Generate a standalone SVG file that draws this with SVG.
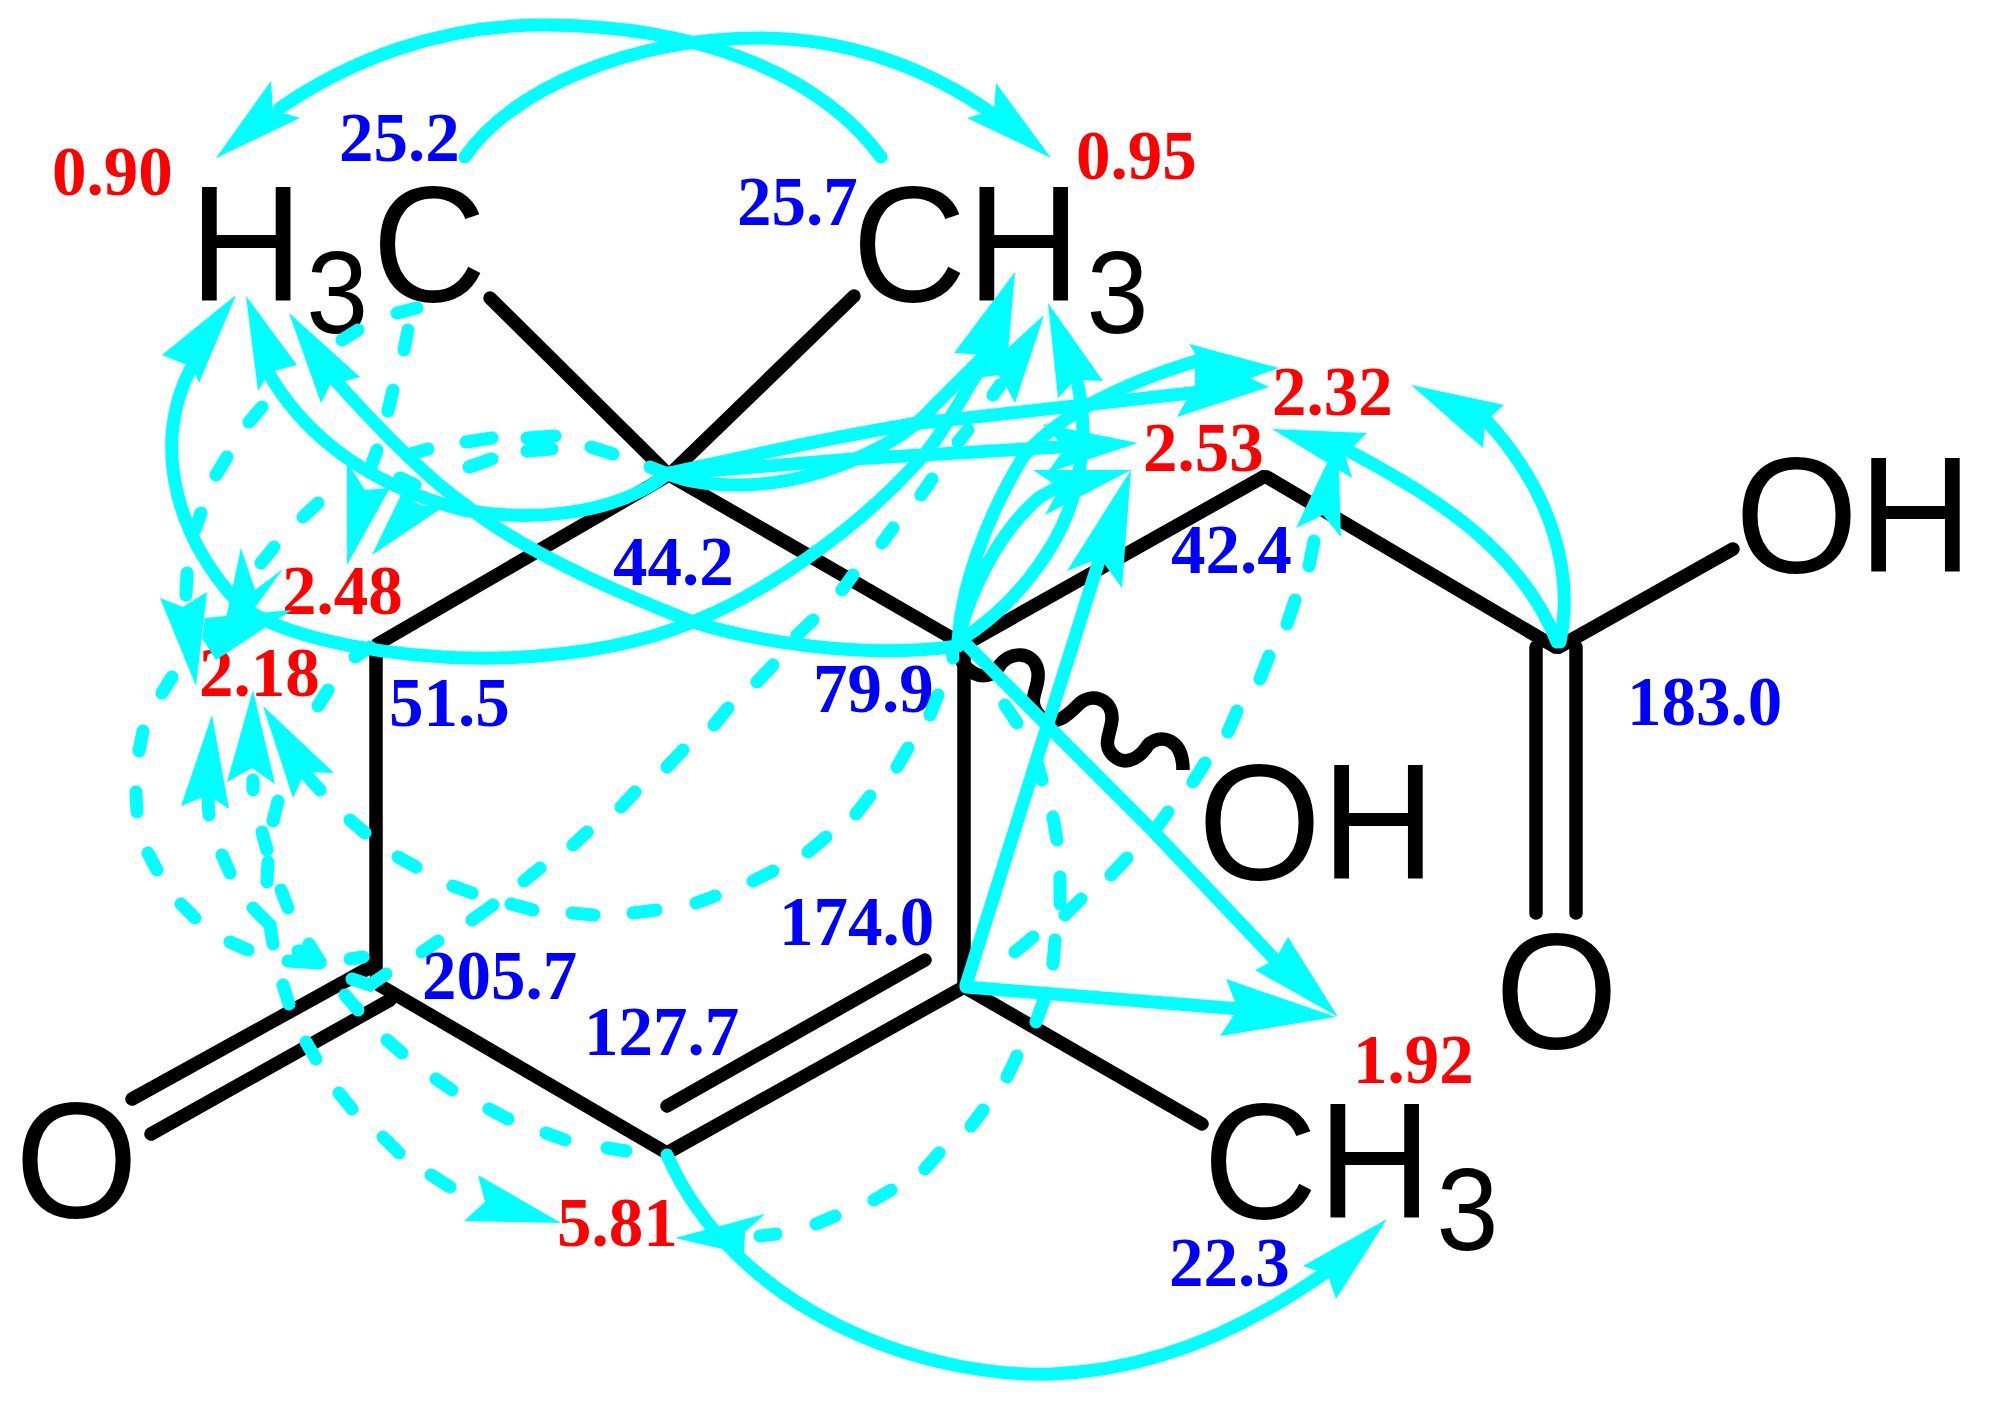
<svg xmlns="http://www.w3.org/2000/svg" width="2002" height="1408" viewBox="0 0 2002 1408">
<style>
.bond{fill:none;stroke:#000;stroke-width:13.5;stroke-linecap:round;stroke-linejoin:bevel}
.atom{font-family:"Liberation Sans",Arial,sans-serif;font-size:165px;fill:#000}
.sub{font-size:116px}
.r,.b{font-family:"Liberation Serif","Times New Roman",serif;font-weight:bold;font-size:69px}
.r{fill:#f00}.b{fill:#00f}
.s{fill:none;stroke:#0ff;stroke-width:13;stroke-linecap:round}
.d{fill:none;stroke:#0ff;stroke-width:13;stroke-linecap:round}
.h{fill:#0ff}
</style>
<rect width="2002" height="1408" fill="#fff"/>
<g id="bonds">
<path class="bond" d="M490 298L669 475L854 296"/>
<path class="bond" d="M669 475L376 645V973"/>
<path class="bond" d="M669 475L964 645V987"/>
<path class="bond" d="M964 645L1265 476L1557 648L1733 549"/>
<path class="bond" d="M1536 647V913M1576 647V913"/>
<path class="bond" d="M132 1099L351 978L374 965M151 1134L390 1000"/>
<path class="bond" d="M379 985L667 1153L964 987L1202 1124"/>
<path class="bond" d="M667 1106L925 960"/>
<path class="bond" d="M958 650C962 672 985 685 998 668C1008 650 1035 650 1038 672C1040 690 1025 700 1040 716C1055 728 1068 715 1078 705C1090 692 1112 698 1112 718C1112 732 1100 745 1115 757C1128 767 1142 755 1148 745C1160 733 1183 738 1183 770" style="stroke-linecap:butt"/>
</g>
<g id="atom-h3c-left"><text class="atom" transform="translate(189 301) scale(.96 1)">H<tspan class="sub" dx="3" dy="32">3</tspan><tspan dx="4" dy="-32">C</tspan></text></g>
<g id="atom-ch3-top"><text class="atom" transform="translate(852 301) scale(.96 1)">CH<tspan class="sub" dx="6" dy="32">3</tspan></text></g>
<g id="atom-oh-acid"><text class="atom" transform="translate(1735 572) scale(.96 1)">OH</text></g>
<g id="atom-oh"><text class="atom" transform="translate(1198 879) scale(.96 1)">OH</text></g>
<g id="atom-o-acid"><text class="atom" transform="translate(1495 1048) scale(.96 1)">O</text></g>
<g id="atom-ch3-bottom"><text class="atom" transform="translate(1203 1218) scale(.96 1)">CH<tspan class="sub" dx="5" dy="32">3</tspan></text></g>
<g id="atom-o-ketone"><text class="atom" transform="translate(15 1217) scale(.96 1)">O</text></g>
<g id="labels-1h">
<text class="r" x="52" y="195">0.90</text>
<text class="r" x="1076" y="179">0.95</text>
<text class="r" x="1272" y="415">2.32</text>
<text class="r" x="1143" y="471">2.53</text>
<text class="r" x="282" y="614">2.48</text>
<text class="r" x="199" y="696">2.18</text>
<text class="r" x="557" y="1246">5.81</text>
<text class="r" x="1353" y="1083">1.92</text>
</g>
<g id="labels-13c">
<text class="b" x="339" y="161">25.2</text>
<text class="b" x="737" y="225">25.7</text>
<text class="b" x="613" y="585">44.2</text>
<text class="b" x="1171" y="573">42.4</text>
<text class="b" x="389" y="726">51.5</text>
<text class="b" x="813" y="712">79.9</text>
<text class="b" x="1627" y="725">183.0</text>
<text class="b" x="779" y="945">174.0</text>
<text class="b" x="422" y="999">205.7</text>
<text class="b" x="584" y="1055">127.7</text>
<text class="b" x="1169" y="1286">22.3</text>
</g>
<g id="connectors">
<path class="s" d="M881 157C820 75 700 25 543 25C440 25 350 60 280 108"/>
<path class="s" d="M465 157C510 90 630 38 760 38C850 38 930 70 990 112"/>
<path class="s" d="M268 372C295 420 350 480 463 510C520 520 610 520 669 473"/>
<path class="s" d="M335 380C380 430 430 480 463 503C520 550 610 590 693 622C750 640 860 660 958 646"/>
<path class="s" d="M190 370C155 440 170 530 240 605C285 640 400 660 498 658C570 656 640 645 697 620C760 595 850 535 913 467C940 440 960 400 985 360"/>
<path class="s" d="M669 474C700 488 760 488 803 477C850 465 905 440 933 407C950 390 965 375 985 355"/>
<path class="s" d="M669 473L753 455Q830 438 912 424L1200 392"/>
<path class="s" d="M669 474L853 459L1060 447"/>
<path class="s" d="M958 645C960 590 985 520 1023 457C1050 425 1100 390 1200 360"/>
<path class="s" d="M958 640C970 590 1000 530 1040 497C1060 485 1075 480 1085 478"/>
<path class="s" d="M960 640C1010 610 1060 550 1075 490C1085 450 1085 420 1078 385"/>
<path class="s" d="M966 985L1108 532"/>
<path class="s" d="M964 642L1154 832L1280 965"/>
<path class="s" d="M966 987L1240 1009"/>
<path class="s" d="M1560 642C1575 570 1550 490 1486 420"/>
<path class="s" d="M1557 642C1520 550 1440 500 1349 451"/>
<path class="s" d="M667 1155C735 1310 920 1378 1052 1374C1165 1370 1262 1320 1340 1262"/>
<path class="d" d="M397 313L417 308M342 340L358 330M408 330L404 350M393 390L388 411M262 407L249 422M227 457L216 475M318 503L303 517M274 547L261 563M201 513L195 530M377 450L370 470M428 449L407 455M466 442L492 438M469 467L492 459M527 438L555 436M527 451L552 449M591 447L613 454M650 467L670 475M400 478L415 485M187 573L186 595M172 677L162 693M370 647L355 657M328 690L318 706M143 731L139 751M136 792L137 812M208 800L209 815M253 780L253 790M302 770L320 790M278 801L273 821M350 820L365 833"/>
<path class="d" d="M262 832L267 850M148 853L157 870M222 855L230 873M268 862L267 882M281 890L288 908M181 904L195 918M253 908L270 925L273 944M230 942L248 950M288 961L320 963M298 951L310 952M309 944L320 962M350 959L363 957M352 979L370 985L386 974M283 985L289 1004M345 995L358 1010M306 1042L316 1059M387 1040L402 1053M436 1079L452 1090M339 1093L352 1109M422 952L438 941M398 857L416 867M453 886L472 893M472 920L493 905"/>
<path class="d" d="M511 904L533 910M572 913L594 915M633 913L656 910M696 903L715 896M753 881L773 871M808 852L826 837M856 814L870 796M897 767L908 748M930 715L938 695M524 881L540 868M573 845L587 832M621 807L635 792M667 767L683 750M714 725L728 708M757 682L773 665M797 635L813 620M842 590L853 575M882 543L893 528M921 495L932 479M958 442L968 430M993 395L1000 385M952 650L953 658"/>
<path class="d" d="M383 1137L399 1153M431 1175L450 1187M489 1109L508 1119M546 1133L565 1140M607 1148L626 1151M760 1236L776 1234M816 1224L835 1216M874 1200L891 1190M925 1169L939 1153M971 1126L983 1110M1007 1077L1017 1056M1036 1022L1044 1000M1055 940L1053 964M1060 877L1060 904M1053 817L1057 840M1042 780L1037 762M1005 705L1017 723"/>
<path class="d" d="M1237 711L1228 732M1205 763L1193 782M1168 812L1157 827M1127 858L1111 875M1081 899L1065 915M1033 937L1015 952M1314 541L1309 566M1295 600L1287 624M1269 656L1260 679"/>
<polygon class="h" points="216,158 271,81 273,110 300,118"/>
<polygon class="h" points="1051,158 996,83 994,110 967,118"/>
<polygon class="h" points="246,296 258,391 270,372 297,365"/>
<polygon class="h" points="289,313 321,403 330,385 360,377"/>
<polygon class="h" points="236,295 162,355 192,367 199,383"/>
<polygon class="h" points="347,565 347,462 365,490 390,488"/>
<polygon class="h" points="372,555 442,508 420,505 402,493"/>
<polygon class="h" points="217,660 241,548 255,590 283,569"/>
<polygon class="h" points="216,660 292,610 205,618 202,638"/>
<polygon class="h" points="196,686 160,598 183,607 207,592"/>
<polygon class="h" points="212,715 181,806 208,795 229,809"/>
<polygon class="h" points="253,690 227,782 252,768 275,784"/>
<polygon class="h" points="263,706 293,798 305,772 334,773"/>
<polygon class="h" points="1015,272 954,353 985,355 1005,385"/>
<polygon class="h" points="1044,315 975,378 1000,375 1015,403"/>
<polygon class="h" points="1048,303 1058,398 1075,380 1103,381"/>
<polygon class="h" points="1279,368 1189,344 1205,368 1190,400"/>
<polygon class="h" points="1269,387 1195,352 1195,385 1177,417"/>
<polygon class="h" points="1138,443 1043,424 1065,448 1047,473"/>
<polygon class="h" points="1131,470 1033,470 1060,488 1045,515"/>
<polygon class="h" points="1131,470 1067,571 1100,558 1122,588"/>
<polygon class="h" points="1338,440 1296,528 1323,515 1341,537"/>
<polygon class="h" points="1272,429 1367,433 1345,455 1352,478"/>
<polygon class="h" points="1411,385 1504,405 1485,422 1483,448"/>
<polygon class="h" points="1338,1017 1288,937 1275,960 1255,970"/>
<polygon class="h" points="1336,1017 1226,979 1238,1009 1220,1036"/>
<polygon class="h" points="1387,1219 1303,1266 1328,1275 1336,1299"/>
<polygon class="h" points="675,1238 765,1214 745,1232 744,1254"/>
<polygon class="h" points="561,1223 478,1175 485,1202 464,1221"/>
</g>
</svg>
